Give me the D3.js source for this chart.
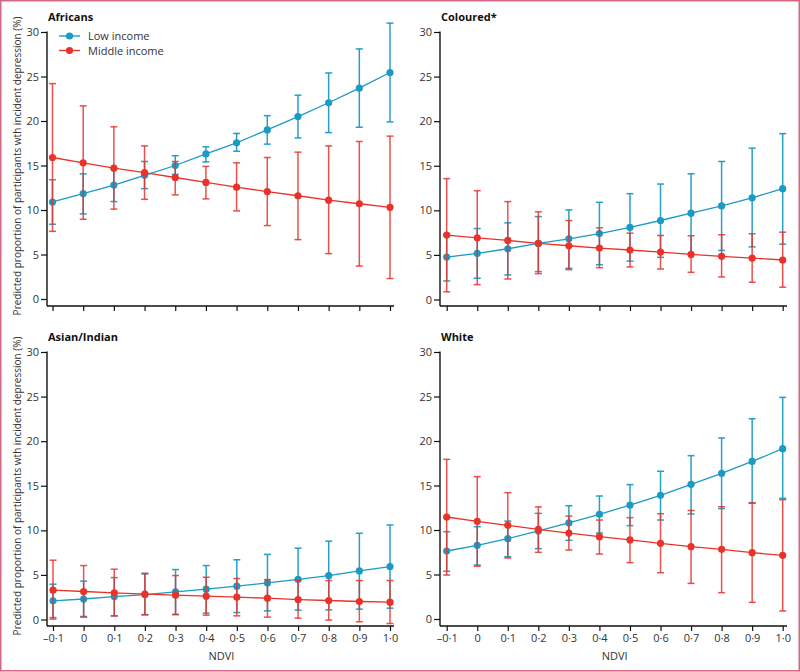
<!DOCTYPE html>
<html><head><meta charset="utf-8">
<script src="https://cdn.jsdelivr.net/npm/d3@7"></script>
<style>
html,body{margin:0;padding:0;background:#fff;}
svg{display:block;font-family:"Open Sans",sans-serif;}
</style></head>
<body><svg id="c" width="800" height="672"></svg>
<script>
// ---------- data ----------
const ndvi = [-0.1, 0, 0.1, 0.2, 0.3, 0.4, 0.5, 0.6, 0.7, 0.8, 0.9, 1.0];
const xTickLabels = ["\u20130\u00b71","0","0\u00b71","0\u00b72","0\u00b73","0\u00b74","0\u00b75","0\u00b76","0\u00b77","0\u00b78","0\u00b79","1\u00b70"];
const yTicks = [0, 5, 10, 15, 20, 25, 30];
const panelTitles = ["Africans", "Coloured*", "Asian/Indian", "White"];
const seriesNames = ["Low income", "Middle income"];
const yLabel = "Predicted proportion of participants wth incident depression (%)";
const xLabel = "NDVI";

// Africans
const africansLow      = [10.9, 11.85, 12.8, 13.9, 15.0, 16.3, 17.55, 19.0, 20.5, 22.05, 23.7, 25.45];
const africansLowLo    = [8.4, 9.56, 10.95, 12.4, 14.0, 15.4, 16.6, 17.4, 18.1, 18.7, 19.3, 19.9];
const africansLowHi    = [13.4, 14.06, 14.7, 15.45, 16.1, 17.1, 18.6, 20.6, 22.9, 25.4, 28.1, 31.0];
const africansMid      = [15.9, 15.3, 14.7, 14.2, 13.65, 13.1, 12.56, 12.07, 11.6, 11.1, 10.7, 10.3];
const africansMidLo    = [7.6, 8.96, 10.1, 11.2, 11.7, 11.25, 9.9, 8.25, 6.67, 5.1, 3.7, 2.3];
const africansMidHi    = [24.2, 21.7, 19.35, 17.2, 15.45, 14.9, 15.3, 15.9, 16.5, 17.2, 17.7, 18.3];
// Coloured
const colouredLow      = [4.76, 5.17, 5.69, 6.29, 6.8, 7.4, 8.08, 8.86, 9.68, 10.5, 11.4, 12.43];
const colouredLowLo    = [2.08, 2.38, 2.75, 3.13, 3.5, 3.9, 4.3, 4.73, 5.1, 5.5, 5.9, 6.2];
const colouredLowHi    = [7.2, 7.96, 8.6, 9.3, 10.05, 10.9, 11.87, 12.95, 14.1, 15.48, 16.97, 18.6];
const colouredMid      = [7.22, 6.92, 6.62, 6.29, 6.03, 5.77, 5.55, 5.32, 5.06, 4.84, 4.65, 4.43];
const colouredMidLo    = [0.86, 1.67, 2.3, 2.9, 3.35, 3.57, 3.65, 3.42, 3.05, 2.53, 1.94, 1.38];
const colouredMidHi    = [13.55, 12.2, 10.98, 9.83, 8.86, 8.04, 7.44, 7.18, 7.15, 7.26, 7.37, 7.55];
// Asian/Indian
const asianLow         = [2.09, 2.3, 2.57, 2.8, 3.1, 3.4, 3.74, 4.1, 4.5, 4.93, 5.45, 5.94];
const asianLowLo       = [0.22, 0.34, 0.4, 0.55, 0.56, 0.71, 0.78, 0.97, 1.05, 1.08, 1.16, 1.27];
const asianLowHi       = [3.96, 4.3, 4.7, 5.1, 5.6, 6.05, 6.7, 7.3, 8.0, 8.78, 9.67, 10.6];
const asianMid         = [3.29, 3.14, 2.99, 2.84, 2.73, 2.62, 2.5, 2.39, 2.24, 2.13, 2.02, 1.94];
const asianMidLo       = [0.05, 0.26, 0.41, 0.52, 0.56, 0.49, 0.41, 0.26, 0.15, -0.07, -0.26, -0.45];
const asianMidHi       = [6.65, 6.05, 5.64, 5.19, 4.93, 4.74, 4.6, 4.48, 4.4, 4.37, 4.37, 4.37];
// White
const whiteLow         = [7.64, 8.28, 9.03, 9.89, 10.79, 11.76, 12.8, 13.9, 15.13, 16.37, 17.7, 19.14];
const whiteLowLo       = [5.36, 6.07, 7.0, 7.9, 8.84, 9.66, 10.49, 11.12, 11.8, 12.4, 13.0, 13.56];
const whiteLowHi       = [9.81, 10.37, 11.0, 11.87, 12.73, 13.82, 15.1, 16.6, 18.35, 20.34, 22.5, 24.9];
const whiteMid         = [11.46, 10.97, 10.52, 10.07, 9.66, 9.25, 8.88, 8.5, 8.13, 7.83, 7.45, 7.15];
const whiteMidLo       = [4.94, 5.92, 6.85, 7.49, 7.75, 7.3, 6.33, 5.2, 4.0, 2.96, 1.87, 0.9];
const whiteMidHi       = [17.94, 16.0, 14.2, 12.6, 11.57, 11.12, 11.39, 11.83, 12.2, 12.62, 13.07, 13.4];

const panels = [
  {title: panelTitles[0], low:[africansLow, africansLowLo, africansLowHi], mid:[africansMid, africansMidLo, africansMidHi]},
  {title: panelTitles[1], low:[colouredLow, colouredLowLo, colouredLowHi], mid:[colouredMid, colouredMidLo, colouredMidHi]},
  {title: panelTitles[2], low:[asianLow, asianLowLo, asianLowHi], mid:[asianMid, asianMidLo, asianMidHi]},
  {title: panelTitles[3], low:[whiteLow, whiteLowLo, whiteLowHi], mid:[whiteMid, whiteMidLo, whiteMidHi]}
];

// ---------- layout ----------
const BLUE = "#1b9ac4", RED = "#e8332b", TXT = "#333";
const layout = [
  {ax: 47, x0: 52.5, x1: 390, xEnd: 394, y30: 32, y0: 299, xAxisY: 306, xLabels: false},
  {ax: 440, x0: 446.7, x1: 782.7, xEnd: 787, y30: 32, y0: 299.5, xAxisY: 306, xLabels: false},
  {ax: 47, x0: 53, x1: 390, xEnd: 394, y30: 352, y0: 619.5, xAxisY: 626, xLabels: true},
  {ax: 440, x0: 446.7, x1: 782.7, xEnd: 787, y30: 352, y0: 619, xAxisY: 626, xLabels: true}
];

const svg = d3.select("#c");
svg.append("rect").attr("x",0.75).attr("y",0.75).attr("width",798.5).attr("height",670)
  .attr("fill","none").attr("stroke","#cf6a82").attr("stroke-width",1.5);

function drawPanel(p, L, idx) {
  const g = svg.append("g");
  const x = d3.scaleLinear().domain([-0.1, 1.0]).range([L.x0, L.x1]);
  const y = d3.scaleLinear().domain([0, 30]).range([L.y0, L.y30]);

  // title
  g.append("text").attr("x", L.ax + 1).attr("y", L.y30 - 11)
    .attr("font-size", 11).attr("font-weight", "bold").attr("fill", "#111").text(p.title);

  // y axis
  const ya = g.append("g").attr("transform", `translate(${L.ax},0)`)
    .call(d3.axisLeft(y).tickValues(yTicks).tickSize(6).tickPadding(2).tickSizeOuter(0));
  ya.select(".domain").remove();
  ya.selectAll("text").attr("font-size", 11).attr("fill", TXT).attr("font-family", "Open Sans");
  ya.selectAll("line").attr("stroke", "#111").attr("stroke-width", 1.2);
  g.append("line").attr("x1", L.ax).attr("x2", L.ax).attr("y1", L.y30 - 0.5).attr("y2", L.xAxisY)
    .attr("stroke", "#111").attr("stroke-width", 1.4);

  // x axis
  const xa = g.append("g").attr("transform", `translate(0,${L.xAxisY})`)
    .call(d3.axisBottom(x).tickValues(ndvi).tickSize(5).tickPadding(3).tickSizeOuter(0)
      .tickFormat((d, i) => L.xLabels ? xTickLabels[i] : ""));
  xa.select(".domain").remove();
  xa.selectAll("text").attr("font-size", 11).attr("fill", TXT).attr("font-family", "Open Sans");
  xa.selectAll("line").attr("stroke", "#111").attr("stroke-width", 1.2);
  g.append("line").attr("x1", L.ax).attr("x2", L.xEnd).attr("y1", L.xAxisY).attr("y2", L.xAxisY)
    .attr("stroke", "#111").attr("stroke-width", 1.4);
  if (L.xLabels) {
    g.append("text").attr("x", (L.x0 + L.x1) / 2).attr("y", L.xAxisY + 34)
      .attr("text-anchor", "middle").attr("font-size", 11).attr("fill", TXT).text(xLabel);
  }
  // y label (left panels)
  if (idx % 2 === 0) {
    g.append("text").attr("transform", `translate(21,${L.y30 + 134}) rotate(-90)`)
      .attr("text-anchor", "middle").attr("font-size", 10).attr("fill", TXT).text(yLabel);
  }

  function series(s, color, barOpacity) {
    const [v, lo, hi] = s;
    const sg = g.append("g");
    const eb = sg.append("g").attr("stroke", color).attr("stroke-opacity", barOpacity).attr("stroke-width", 1.5);
    ndvi.forEach((d, i) => {
      eb.append("line").attr("x1", x(d)).attr("x2", x(d)).attr("y1", y(lo[i])).attr("y2", y(hi[i]));
      eb.append("line").attr("x1", x(d) - 3.5).attr("x2", x(d) + 3.5).attr("y1", y(lo[i])).attr("y2", y(lo[i]));
      eb.append("line").attr("x1", x(d) - 3.5).attr("x2", x(d) + 3.5).attr("y1", y(hi[i])).attr("y2", y(hi[i]));
    });
    sg.append("path").datum(v).attr("fill", "none").attr("stroke", color).attr("stroke-width", 1.3)
      .attr("d", d3.line().x((d, i) => x(ndvi[i])).y(d => y(d)));
    sg.selectAll("circle").data(v).join("circle")
      .attr("cx", (d, i) => x(ndvi[i])).attr("cy", d => y(d)).attr("r", 3.6).attr("fill", color);
  }
  series(p.low, BLUE, 0.95);
  series(p.mid, RED, 0.85);

  // legend (first panel)
  if (idx === 0) {
    const lg = g.append("g");
    [[BLUE, seriesNames[0], 36], [RED, seriesNames[1], 50.5]].forEach(([c, t, yy]) => {
      lg.append("line").attr("x1", 59).attr("x2", 80).attr("y1", yy).attr("y2", yy).attr("stroke", c).attr("stroke-width", 1.4);
      lg.append("circle").attr("cx", 69.5).attr("cy", yy).attr("r", 3.6).attr("fill", c);
      lg.append("text").attr("x", 88).attr("y", yy + 4).attr("font-size", 11).attr("fill", TXT).text(t);
    });
  }
}

panels.forEach((p, i) => drawPanel(p, layout[i], i));
</script></body></html>
